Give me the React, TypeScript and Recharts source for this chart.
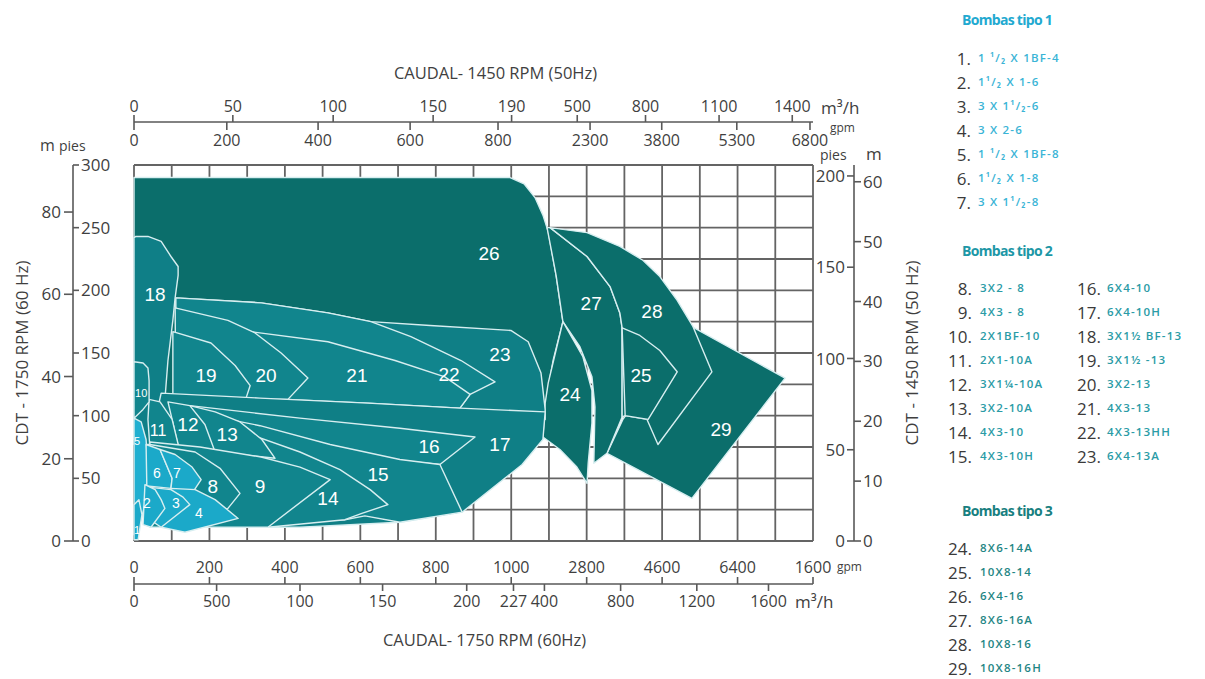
import React from "react";
import { ScatterChart, Scatter, XAxis, YAxis, CartesianGrid } from "recharts";

const W = 1205;
const H = 679;
const FONT = '"Open Sans", "Noto Sans", sans-serif';
const TXT = "#3f3f3f";
const AX = "#595959";
const GRID = "#646464";
const DARK = "#0b6e6b";
const MID = "#11858d";
const LIGHT = "#1ba9c9";
const EDGE = "#d7eef0";

// x = flow on the 60 Hz grid (100 per column, scale breaks after 1000 gpm)
// y = head in feet (pies), 60 Hz
const gridCols = [0, 100, 200, 300, 400, 500, 600, 700, 800, 900, 1000, 1100, 1200, 1300, 1400, 1500, 1600, 1700, 1800];
const gridRows = [0, 25, 50, 75, 100, 125, 150, 175, 200, 225, 250, 275, 300];

const botGpmAt = [0, 200, 400, 600, 800, 1000, 1200, 1400, 1600, 1800];
const botGpmLabels = ["0", "200", "400", "600", "800", "1000", "2800", "4600", "6400", "1600"];
const botM3hAt = [0, 219, 440, 659, 882, 1006, 1088, 1290, 1492, 1682];
const botM3hLabels = ["0", "500", "100", "150", "200", "227", "400", "800", "1200", "1600"];
const topGpmAt = [0, 246, 488, 732, 965, 1209, 1399, 1598, 1792];
const topGpmLabels = ["0", "200", "400", "600", "800", "2300", "3800", "5300", "6800"];
const topM3hAt = [0, 262, 528, 793, 1001, 1175, 1356, 1551, 1745];
const topM3hLabels = ["0", "50", "100", "150", "190", "500", "800", "1100", "1400"];

const piesLeft = [0, 50, 100, 150, 200, 250, 300];
const mLeft = [0, 20, 40, 60, 80];
const piesRight = [0, 50, 100, 150, 200];
const mRight = [0, 10, 20, 30, 40, 50, 60];

// pump regions, [flow, head] outlines
const r26 = [[0, 290], [997, 290], [1034, 285], [1063, 274], [1084, 260], [1098, 247], [1119, 212], [1137, 175], [1111, 144], [1095, 117], [1084, 81], [0, 81]];
const r29 = [[1254, 70], [1296, 97], [1479, 171], [1726, 130], [1479, 34]];
const r27 = [[1095, 250], [1119, 212], [1137, 175], [1182, 155], [1214, 131], [1222, 107], [1219, 62], [1254, 70], [1294, 99], [1294, 170], [1288, 182], [1262, 203], [1201, 227], [1103, 250]];
const r28 = [[1103, 250], [1201, 246], [1288, 235], [1349, 224], [1394, 211], [1440, 192], [1482, 171], [1532, 135], [1389, 77], [1360, 97], [1302, 100], [1294, 99], [1294, 170], [1288, 182], [1262, 203], [1201, 227]];
const r25 = [[1294, 170], [1341, 164], [1394, 152], [1440, 135], [1363, 97], [1302, 100]];
const r24 = [[1137, 175], [1121, 155], [1098, 126], [1090, 110], [1084, 83], [1129, 73], [1174, 59], [1201, 46], [1204, 62], [1214, 94], [1214, 120], [1190, 147]];
const r23 = [[111, 194], [337, 190], [514, 182], [628, 175], [785, 172], [999, 168], [1045, 159], [1079, 134], [1090, 105], [1090, 97], [111, 97]];
const r22 = [[111, 194], [337, 190], [514, 182], [628, 175], [734, 163], [867, 144], [957, 127], [891, 117], [864, 106], [620, 110], [334, 114], [111, 114]];
const r21 = [[310, 167], [514, 159], [692, 144], [824, 131], [891, 117], [864, 106], [620, 110], [334, 114]];
const r20 = [[109, 186], [249, 176], [321, 166], [390, 150], [461, 130], [408, 113], [111, 114]];
const r19 = [[103, 167], [204, 158], [268, 140], [308, 124], [297, 114], [103, 114]];
const r18 = [[0, 242], [5, 243], [37, 243], [72, 239], [98, 227], [117, 219], [117, 212], [109, 194], [103, 176], [90, 144], [82, 113], [74, 77], [0, 77]];
const r17 = [[72, 118], [334, 114], [620, 110], [864, 106], [1090, 103], [1084, 81], [1029, 61], [870, 23], [705, 15], [440, 11], [122, 11], [42, 77]];
const r16 = [[148, 108], [440, 98], [705, 90], [904, 83], [811, 61], [148, 81]];
const r15 = [[135, 104], [334, 92], [520, 77], [705, 65], [811, 61], [870, 23], [705, 15], [612, 20], [559, 17], [135, 17]];
const r14 = [[122, 101], [308, 85], [440, 71], [546, 57], [626, 41], [673, 29], [604, 22], [559, 17], [355, 11], [122, 11]];
const r13 = [[148, 108], [215, 103], [281, 95], [339, 81], [374, 66], [215, 71], [162, 89]];
const r12 = [[90, 111], [148, 108], [188, 93], [215, 71], [122, 69], [101, 97]];
const r11 = [[40, 113], [69, 111], [101, 97], [122, 71], [42, 75], [37, 97]];
const r10 = [[0, 143], [24, 142], [37, 138], [40, 128], [40, 111], [24, 105], [0, 98]];
const r9 = [[42, 79], [175, 75], [337, 67], [440, 59], [520, 49], [355, 11], [276, 11], [42, 11]];
const r8 = [[42, 77], [162, 71], [228, 58], [281, 38], [249, 26], [42, 25]];
const r5 = [[0, 98], [19, 95], [32, 81], [37, 57], [32, 33], [19, 17], [0, 5]];
const r6 = [[32, 77], [69, 73], [101, 50], [98, 42], [34, 44]];
const r7 = [[69, 73], [109, 69], [154, 59], [178, 49], [156, 39], [98, 42], [101, 50]];
const r4 = [[98, 42], [162, 41], [215, 33], [276, 18], [135, 7], [72, 11]];
const r3 = [[37, 43], [98, 41], [130, 35], [148, 29], [72, 11], [42, 17]];
const r2 = [[29, 45], [56, 41], [72, 33], [82, 26], [45, 11], [24, 13]];
const r1 = [[0, 29], [13, 33], [21, 21], [11, 1], [0, 1]];

// [pump, flow, head] where the number sits
const labelAt = [
  [26, 941, 230], [27, 1212, 190], [28, 1373, 183], [24, 1156, 117], [25, 1344, 132], [29, 1556, 89],
  [18, 56, 197], [19, 191, 132], [20, 350, 132], [21, 591, 132], [22, 835, 133], [23, 970, 149],
  [16, 782, 76], [17, 970, 77], [15, 647, 53], [14, 514, 34], [9, 334, 44], [8, 209, 44],
  [13, 247, 85], [12, 143, 93], [11, 64, 88], [10, 19, 118], [5, 8, 80], [6, 61, 54], [7, 114, 54],
  [2, 34, 30], [3, 111, 30], [4, 172, 22], [1, 8, 9],
];

const tipo1 = ["1 ¹/₂ X 1BF-4", "1¹/₂ X 1-6", "3 X 1¹/₂-6", "3 X 2-6", "1 ¹/₂ X 1BF-8", "1¹/₂ X 1-8", "3 X 1¹/₂-8"];
const tipo2a = ["3X2 - 8", "4X3 - 8", "2X1BF-10", "2X1-10A", "3X1¼-10A", "3X2-10A", "4X3-10", "4X3-10H"];
const tipo2b = ["6X4-10", "6X4-10H", "3X1½ BF-13", "3X1½ -13", "3X2-13", "4X3-13", "4X3-13HH", "6X4-13A"];
const tipo3 = ["8X6-14A", "10X8-14", "6X4-16", "8X6-16A", "10X8-16", "10X8-16H"];

const regions = [
  { id: 26, pts: r26, tone: DARK },
  { id: 29, pts: r29, tone: DARK },
  { id: 27, pts: r27, tone: DARK },
  { id: 28, pts: r28, tone: DARK },
  { id: 25, pts: r25, tone: DARK },
  { id: 24, pts: r24, tone: DARK },
  { id: 23, pts: r23, tone: "#0f7f86" },
  { id: 22, pts: r22, tone: MID },
  { id: 21, pts: r21, tone: MID },
  { id: 20, pts: r20, tone: MID },
  { id: 19, pts: r19, tone: MID },
  { id: 18, pts: r18, tone: "#0f7f87" },
  { id: 17, pts: r17, tone: "#0f7f86" },
  { id: 16, pts: r16, tone: MID },
  { id: 15, pts: r15, tone: MID },
  { id: 14, pts: r14, tone: MID },
  { id: 13, pts: r13, tone: MID },
  { id: 12, pts: r12, tone: MID },
  { id: 11, pts: r11, tone: MID },
  { id: 10, pts: r10, tone: MID },
  { id: 9, pts: r9, tone: MID },
  { id: 8, pts: r8, tone: MID },
  { id: 5, pts: r5, tone: "#20afd0" },
  { id: 6, pts: r6, tone: LIGHT },
  { id: 7, pts: r7, tone: LIGHT },
  { id: 4, pts: r4, tone: LIGHT },
  { id: 3, pts: r3, tone: LIGHT },
  { id: 2, pts: r2, tone: LIGHT },
  { id: 1, pts: r1, tone: LIGHT },
].map((r) => ({ ...r, data: r.pts.map(([x, y]) => ({ x, y })) }));

const labels = labelAt.map(([id, x, y]) => ({ id, x, y }));

const botM3hMap = new Map(botM3hAt.map((v, i) => [v, botM3hLabels[i]]));
const topM3hMap = new Map(topM3hAt.map((v, i) => [v, topM3hLabels[i]]));

const noDot = () => <g />;

const polygonLine = (tone: string) => (p: any) => (
  <polygon
    points={(p.points || []).map((pt: any) => `${pt.x},${pt.y}`).join(" ")}
    fill={tone}
    stroke={EDGE}
    strokeWidth={1.4}
    strokeLinejoin="round"
  />
);

const labelSize = (id: number) =>
  id === 1 || id === 5 || id === 10 ? 11 : id <= 7 ? 14 : id === 11 ? 16 : 19;

function RegionLabel(p: any) {
  const id = p.payload.id;
  return (
    <text
      x={p.cx}
      y={p.cy}
      dy="0.36em"
      textAnchor="middle"
      fill="#ffffff"
      fontSize={labelSize(id)}
      fontFamily='"Liberation Sans", Arial, sans-serif'
    >
      {id}
    </text>
  );
}

function BottomGpmTick({ x, y, payload }: any) {
  const i = botGpmAt.indexOf(payload.value);
  if (i < 0) return <g />;
  return (
    <g>
      <line x1={x} x2={x} y1={y + 36} y2={y + 43} stroke={AX} strokeWidth={1.6} />
      <text x={x} y={y + 32} textAnchor="middle" fill={TXT} fontSize={16}>
        {botGpmLabels[i]}
      </text>
    </g>
  );
}

function TopGpmTick({ x, y, payload }: any) {
  const i = topGpmAt.indexOf(payload.value);
  if (i < 0) return <g />;
  return (
    <g>
      <line x1={x} x2={x} y1={y - 43} y2={y - 35} stroke={AX} strokeWidth={1.6} />
      <text x={x} y={y - 19} textAnchor="middle" fill={TXT} fontSize={16}>
        {topGpmLabels[i]}
      </text>
    </g>
  );
}

function LeftPiesTick({ x, y, payload }: any) {
  if (!piesLeft.includes(payload.value)) return <g />;
  return (
    <g>
      <line x1={x - 61} x2={x - 55} y1={y} y2={y} stroke={AX} strokeWidth={1.6} />
      <text x={x - 53} y={y} dy="0.36em" textAnchor="start" fill={TXT} fontSize={17}>
        {payload.value}
      </text>
    </g>
  );
}

function RightPiesTick({ x, y, payload }: any) {
  return (
    <g>
      <line x1={x + 34} x2={x + 41} y1={y} y2={y} stroke={AX} strokeWidth={1.6} />
      <text x={x + 32} y={y} dy="0.36em" textAnchor="end" fill={TXT} fontSize={17}>
        {payload.value}
      </text>
    </g>
  );
}

function Note({ x, y, size, color = TXT, weight = 400, spacing = 0, children }: any) {
  return (
    <div
      style={{
        position: "absolute",
        left: x,
        top: y,
        transform: "translateY(-50%)",
        fontSize: size,
        lineHeight: 1,
        whiteSpace: "nowrap",
        color,
        fontWeight: weight,
        letterSpacing: spacing,
      }}
    >
      {children}
    </div>
  );
}

function LegendRow({ n, text, numRight, textX, y, color }: any) {
  return (
    <>
      <div
        style={{
          position: "absolute",
          left: numRight - 40,
          width: 40,
          top: y,
          transform: "translateY(-50%)",
          textAlign: "right",
          fontSize: 17,
          lineHeight: 1,
          color: "#3a3a3a",
        }}
      >
        {n}.
      </div>
      <Note x={textX} y={y} size={11.5} color={color} weight={600} spacing={1.2}>
        {text}
      </Note>
    </>
  );
}

const axisLine = { stroke: AX, strokeWidth: 1.6 };

// axes that carry no region still need a series so their ticks get built
const anchorPairs = [
  ["b2", "l2"],
  ["t1", "r1"],
  ["t2", "r2"],
];

export default function App() {
  return (
    <div
      style={{
        position: "absolute",
        left: 0,
        top: 0,
        width: W,
        height: H,
        background: "#ffffff",
        fontFamily: FONT,
        color: TXT,
        overflow: "hidden",
      }}
    >
      <ScatterChart width={W} height={H} margin={{ top: 67, right: 291, bottom: 33, left: 22 }}>
        <XAxis
          xAxisId="b1"
          dataKey="x"
          type="number"
          orientation="bottom"
          domain={[0, 1800]}
          ticks={gridCols}
          interval={0}
          height={43}
          tickSize={0}
          tickMargin={0}
          axisLine={false}
          tickLine={false}
          tick={BottomGpmTick}
        />
        <XAxis
          xAxisId="b2"
          dataKey="x"
          type="number"
          orientation="bottom"
          domain={[0, 1800]}
          allowDataOverflow
          ticks={botM3hAt}
          interval={0}
          height={62}
          tickSize={7}
          tickMargin={5}
          axisLine={axisLine}
          tickLine={axisLine}
          tick={{ fill: TXT, fontSize: 16 }}
          tickFormatter={(v: number) => botM3hMap.get(v) ?? ""}
          label={{ value: "CAUDAL- 1750 RPM (60Hz)", position: "insideBottom", offset: 0, dx: 11, fill: TXT, fontSize: 16.5 }}
        />
        <XAxis
          xAxisId="t1"
          dataKey="x"
          type="number"
          orientation="top"
          domain={[0, 1800]}
          allowDataOverflow
          ticks={topGpmAt}
          interval={0}
          height={43}
          tickSize={0}
          tickMargin={0}
          axisLine={false}
          tickLine={false}
          tick={TopGpmTick}
        />
        <XAxis
          xAxisId="t2"
          dataKey="x"
          type="number"
          orientation="top"
          domain={[0, 1800]}
          allowDataOverflow
          ticks={topM3hAt}
          interval={0}
          height={55}
          tickSize={7}
          tickMargin={3}
          axisLine={axisLine}
          tickLine={axisLine}
          tick={{ fill: TXT, fontSize: 16 }}
          tickFormatter={(v: number) => topM3hMap.get(v) ?? ""}
          label={{ value: "CAUDAL- 1450 RPM (50Hz)", position: "insideTop", offset: 0, dx: 22, fill: TXT, fontSize: 16.5 }}
        />
        <YAxis
          yAxisId="l1"
          dataKey="y"
          type="number"
          orientation="left"
          domain={[0, 300]}
          ticks={gridRows}
          interval={0}
          width={61}
          tickSize={0}
          tickMargin={0}
          axisLine={false}
          tickLine={false}
          tick={LeftPiesTick}
        />
        <YAxis
          yAxisId="l2"
          dataKey="y"
          type="number"
          orientation="left"
          domain={[0, 91.44]}
          allowDataOverflow
          ticks={mLeft}
          interval={0}
          width={51}
          tickSize={9}
          tickMargin={3}
          axisLine={axisLine}
          tickLine={axisLine}
          tick={{ fill: TXT, fontSize: 17 }}
          label={{
            value: "CDT - 1750 RPM (60 Hz)",
            angle: -90,
            position: "insideLeft",
            offset: 0,
            fill: TXT,
            fontSize: 17,
            style: { textAnchor: "middle" },
          }}
        />
        <YAxis
          yAxisId="r1"
          dataKey="y"
          type="number"
          orientation="right"
          domain={[0, 206]}
          allowDataOverflow
          ticks={piesRight}
          interval={0}
          width={41}
          tickSize={0}
          tickMargin={0}
          axisLine={false}
          tickLine={false}
          tick={RightPiesTick}
        />
        <YAxis
          yAxisId="r2"
          dataKey="y"
          type="number"
          orientation="right"
          domain={[0, 62.8]}
          allowDataOverflow
          ticks={mRight}
          interval={0}
          width={60}
          tickSize={7}
          tickMargin={2}
          axisLine={axisLine}
          tickLine={axisLine}
          tick={{ fill: TXT, fontSize: 17 }}
          label={{
            value: "CDT - 1450 RPM (50 Hz)",
            angle: -90,
            position: "insideRight",
            offset: 2,
            fill: TXT,
            fontSize: 17,
            style: { textAnchor: "middle" },
          }}
        />
        <CartesianGrid xAxisId="b1" yAxisId="l1" stroke={GRID} strokeWidth={1.8} />
        {anchorPairs.map(([xa, ya]) => (
          <Scatter
            key={xa + ya}
            xAxisId={xa}
            yAxisId={ya}
            data={labels}
            shape={noDot}
            legendType="none"
            isAnimationActive={false}
          />
        ))}
        {regions.map((r) => (
          <Scatter
            key={r.id}
            name={`b${r.id}`}
            xAxisId="b1"
            yAxisId="l1"
            data={r.data}
            line={polygonLine(r.tone)}
            lineType="joint"
            shape={noDot}
            legendType="none"
            isAnimationActive={false}
          />
        ))}
        <Scatter
          name="labels"
          xAxisId="b1"
          yAxisId="l1"
          data={labels}
          shape={RegionLabel}
          legendType="none"
          isAnimationActive={false}
        />
      </ScatterChart>

      <Note x={821} y={107} size={17}>m³/h</Note>
      <Note x={830} y={128} size={12}>gpm</Note>
      <Note x={820} y={155} size={14}>pies</Note>
      <Note x={866} y={153} size={17}>m</Note>
      <Note x={40} y={145} size={16}>m</Note>
      <Note x={59} y={146} size={14}>pies</Note>
      <Note x={837} y={567} size={12}>gpm</Note>
      <Note x={795} y={601} size={17}>m³/h</Note>

      <Note x={962} y={20} size={14} weight={700} spacing={-0.7} color="#22a9d0">Bombas tipo 1</Note>
      {tipo1.map((t, i) => (
        <LegendRow key={t} n={i + 1} text={t} numRight={971} textX={978} y={58 + 24 * i} color="#3ab4d6" />
      ))}
      <Note x={962} y={251} size={14} weight={700} spacing={-0.7} color="#1d97a6">Bombas tipo 2</Note>
      {tipo2a.map((t, i) => (
        <LegendRow key={t} n={i + 8} text={t} numRight={972} textX={980} y={288 + 24 * i} color="#2a9ba6" />
      ))}
      {tipo2b.map((t, i) => (
        <LegendRow key={t} n={i + 16} text={t} numRight={1101} textX={1107} y={288 + 24 * i} color="#2a9ba6" />
      ))}
      <Note x={962} y={511} size={14} weight={700} spacing={-0.7} color="#187f80">Bombas tipo 3</Note>
      {tipo3.map((t, i) => (
        <LegendRow key={t} n={i + 24} text={t} numRight={972} textX={980} y={548 + 24 * i} color="#1f8684" />
      ))}
    </div>
  );
}
